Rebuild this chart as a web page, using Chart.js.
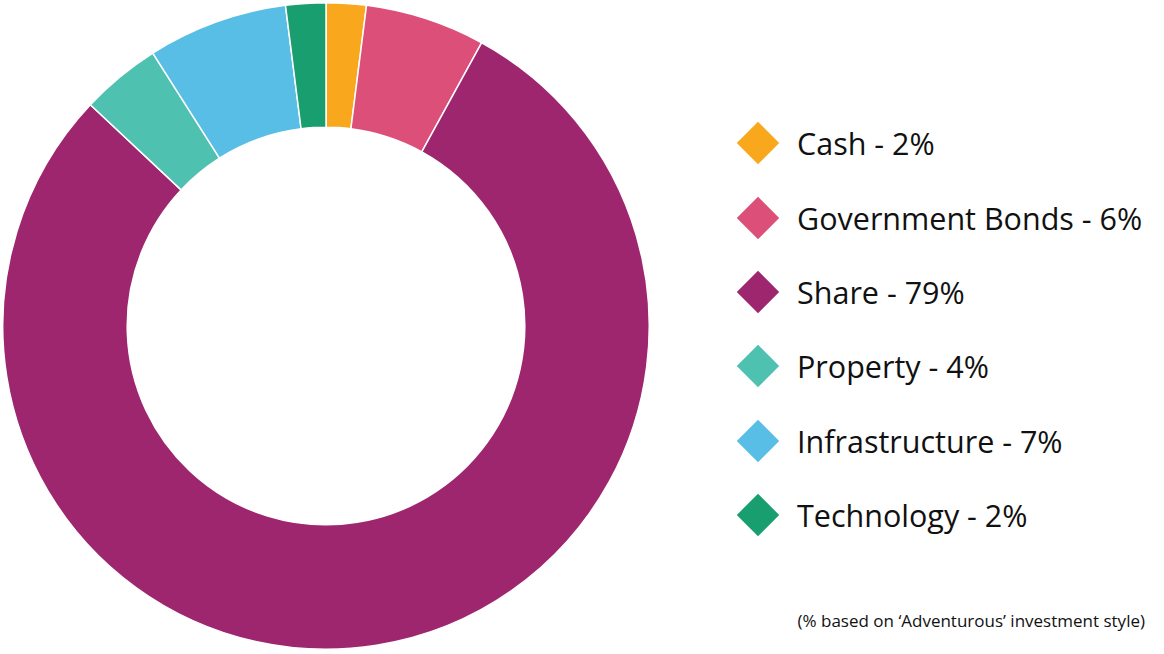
<!doctype html>
<html>
<head>
<meta charset="utf-8" />
<script src="https://cdn.jsdelivr.net/npm/chart.js"></script>
<style>
  html, body { margin:0; padding:0; background:#fff; }
  body { width:1164px; height:654px; position:relative; overflow:hidden; font-family:"Open Sans","Noto Sans",sans-serif; color:#111; }
  #wrap { position:absolute; left:0; top:0; width:652px; height:652px; }
  #legend { position:absolute; left:737px; top:106px; margin:0; padding:0; list-style:none; }
  #legend li { height:74.4px; display:flex; align-items:center; font-size:30.5px; white-space:nowrap; }
  #legend .sw { width:30px; height:30px; transform:rotate(45deg); margin:0 24px 0 6px; flex:none; }
  #note { position:absolute; right:19px; top:609px; font-size:17px; }
</style>
</head>
<body>
<div id="wrap"><canvas id="c"></canvas></div>
<ul id="legend"></ul>
<div id="note">(% based on ‘Adventurous’ investment style)</div>
<script>
// Anteile nach Anlageklasse
const categories = ["Cash", "Government Bonds", "Share", "Property", "Infrastructure", "Technology"];
const shares = [2, 6, 79, 4, 7, 2];
const colors = ["#F9A81E", "#DC4F79", "#9E266F", "#4FC1B1", "#59BEE6", "#199E6F"];

// Legende als HTML aus denselben Arrays
const ul = document.getElementById("legend");
categories.forEach((c, i) => {
  const li = document.createElement("li");
  li.innerHTML = `<span class="sw" style="background:${colors[i]}"></span>${c} - ${shares[i]}%`;
  ul.appendChild(li);
});

new Chart(document.getElementById("c").getContext("2d"), {
  type: "doughnut",
  data: { labels: categories, datasets: [{ data: shares, backgroundColor: colors, borderColor: "#fff", borderWidth: 1.5 }] },
  options: {
    responsive: true, maintainAspectRatio: false, animation: false,
    cutout: "61.5%",
    layout: { padding: 2 },
    plugins: { legend: { display: false }, tooltip: { enabled: false } }
  }
});
</script>
</body>
</html>
